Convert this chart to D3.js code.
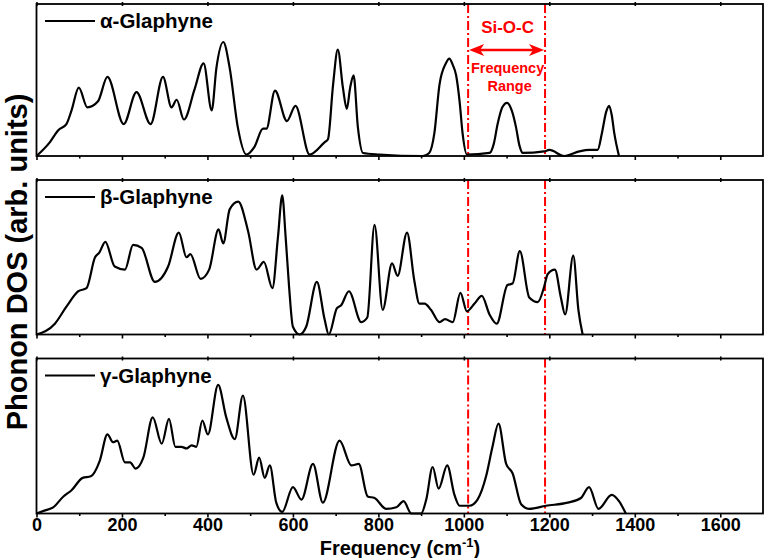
<!DOCTYPE html>
<html>
<head>
<meta charset="utf-8">
<script src="https://cdn.jsdelivr.net/npm/d3@7"></script>
<style>
  body { margin: 0; background: #fff; }
  svg { display: block; font-family: "Liberation Sans", Arial, sans-serif; font-weight: bold; }
</style>
</head>
<body>
<svg id="chart" width="765" height="558"></svg>
<script>
// phonon DOS (frequency in cm-1, DOS in arb. units, 0..1 of panel)
const alphaFreq = [0,31,51,70,82,99,119,144,166,204,234,267,296,316,328,345,370,391,410,421,437,452,471,491,510,530,538,558,586,606,639,674,682,694,705,717,726,734,742,752,764,802,904,919,931,943,958,966,974,982,990,997,1007,1060,1070,1079,1090,1101,1112,1122,1130,1138,1188,1200,1235,1270,1293,1313,1323,1333,1340,1346,1352,1363];
const alphaDos = [0,0.09,0.17,0.21,0.30,0.45,0.32,0.36,0.52,0.21,0.42,0.21,0.52,0.32,0.37,0.24,0.44,0.61,0.30,0.58,0.75,0.58,0.19,0.01,0.06,0.18,0.18,0.43,0.23,0.33,0.01,0.09,0.11,0.47,0.70,0.45,0.31,0.45,0.53,0.19,0.02,0.01,0,0.02,0.15,0.47,0.61,0.64,0.60,0.53,0.36,0.15,0.01,0.02,0.08,0.21,0.32,0.35,0.30,0.19,0.07,0.02,0.03,0.04,0,0.03,0.04,0.04,0.15,0.29,0.33,0.27,0.15,0];

const betaFreq = [0,43,70,98,117,137,147,161,183,207,226,246,277,308,333,351,360,384,404,426,437,452,472,495,515,532,552,565,575,583,591,600,616,631,656,674,684,703,713,731,760,774,791,810,832,845,867,884,896,908,923,943,956,974,992,1007,1025,1042,1060,1077,1102,1114,1131,1153,1173,1188,1196,1213,1227,1237,1256,1268,1278];
const betaDos = [0,0.07,0.18,0.28,0.30,0.50,0.53,0.60,0.44,0.42,0.58,0.56,0.34,0.44,0.66,0.50,0.52,0.36,0.42,0.68,0.59,0.81,0.86,0.67,0.42,0.47,0.30,0.63,0.90,0.63,0.31,0.05,0,0.05,0.34,0.10,0,0.17,0.19,0.28,0.08,0.11,0.71,0.16,0.46,0.38,0.66,0.35,0.20,0.20,0.16,0.08,0.10,0.08,0.27,0.15,0.20,0.25,0.13,0.07,0.32,0.33,0.54,0.24,0.21,0.31,0.39,0.42,0.24,0.13,0.51,0.16,0];

const gammaFreq = [0,20,39,63,82,108,127,148,166,179,189,207,219,232,250,272,293,310,325,339,351,363,374,388,401,425,444,464,483,508,521,534,546,561,575,600,620,647,670,709,737,754,775,791,818,842,859,877,900,912,927,941,961,978,990,1013,1032,1052,1067,1081,1099,1114,1134,1153,1192,1243,1274,1293,1315,1346,1363,1379];
const gammaDos = [0,0.02,0.04,0.11,0.15,0.23,0.24,0.34,0.51,0.46,0.47,0.33,0.33,0.29,0.36,0.62,0.45,0.61,0.43,0.43,0.42,0.44,0.43,0.60,0.51,0.83,0.62,0.48,0.76,0.25,0.36,0.23,0.31,0.07,0.01,0.17,0.09,0.32,0.07,0.47,0.31,0.32,0.11,0.10,0.03,0.04,0.08,0,0,0.09,0.30,0.16,0.31,0.12,0.05,0.05,0.09,0.24,0.43,0.58,0.32,0.26,0.06,0.03,0.05,0.07,0.10,0.17,0.03,0.12,0.08,0];

const panelNames = ["α-Glaphyne", "β-Glaphyne", "γ-Glaphyne"];
const xTicks = [0, 200, 400, 600, 800, 1000, 1200, 1400, 1600];
const xMinorTicks = [100, 300, 500, 700, 900, 1100, 1300, 1500];
const siocRange = [1010, 1190];

const series = [
  { name: panelNames[0], freq: alphaFreq, dos: alphaDos },
  { name: panelNames[1], freq: betaFreq, dos: betaDos },
  { name: panelNames[2], freq: gammaFreq, dos: gammaDos },
];

const svg = d3.select("#chart");
const red = "#ff0000";
const panelTop = [4, 180, 358.5];
const panelBottom = [156, 334.5, 513.5];

const x = d3.scaleLinear().domain([0, 1700]).range([36.5, 763]);

series.forEach((s, i) => {
  const top = panelTop[i], bottom = panelBottom[i];
  const y = d3.scaleLinear().domain([0, 1]).range([bottom, top]);
  const g = svg.append("g");

  // minor + major ticks, bottom and top
  const last = i === series.length - 1;
  const major = d3.axisBottom(x).tickValues(xTicks).tickSize(4).tickPadding(1)
    .tickFormat(last ? d3.format("d") : "");
  g.append("g").attr("transform", `translate(0,${bottom})`).call(major)
    .call((a) => a.select(".domain").remove())
    .call((a) => a.selectAll("line").attr("stroke-width", 1.6))
    .call((a) => a.selectAll("text").attr("font-size", 18).attr("font-weight", "bold")
      .attr("font-family", "Liberation Sans, Arial, sans-serif").attr("fill", "#000"));
  g.append("g").attr("transform", `translate(0,${bottom})`)
    .call(d3.axisBottom(x).tickValues(xMinorTicks).tickSize(2.5).tickFormat(""))
    .call((a) => a.select(".domain").remove())
    .call((a) => a.selectAll("line").attr("stroke-width", 1.6));
  g.append("g").attr("transform", `translate(0,${top + 2})`)
    .call(d3.axisTop(x).tickValues(xTicks).tickSize(4).tickFormat(""))
    .call((a) => a.select(".domain").remove())
    .call((a) => a.selectAll("line").attr("stroke-width", 1.6));

  // Si-O-C frequency range markers
  g.selectAll(".range").data(siocRange).join("line")
    .attr("x1", (d) => x(d)).attr("x2", (d) => x(d))
    .attr("y1", top).attr("y2", bottom)
    .attr("stroke", red).attr("stroke-width", 2)
    .attr("stroke-dasharray", "9,3,2,3");

  const line = d3.line()
    .x((d) => x(d[0]))
    .y((d) => y(d[1]))
    .curve(d3.curveMonotoneX);
  g.append("path")
    .datum(d3.zip(s.freq, s.dos))
    .attr("d", line)
    .attr("fill", "none")
    .attr("stroke", "#000")
    .attr("stroke-width", 2.2)
    .attr("stroke-linejoin", "round");

  // frame
  g.append("rect")
    .attr("x", x(0)).attr("y", top)
    .attr("width", x(1700) - x(0)).attr("height", bottom - top)
    .attr("fill", "none").attr("stroke", "#000").attr("stroke-width", 1.8);

  // legend
  g.append("line")
    .attr("x1", 45).attr("x2", 95)
    .attr("y1", top + 17).attr("y2", top + 17)
    .attr("stroke", "#000").attr("stroke-width", 2);
  g.append("text")
    .attr("x", 100).attr("y", top + 24)
    .attr("font-size", 20.5)
    .text(s.name);
});

// annotation in the first panel
const mid = x((siocRange[0] + siocRange[1]) / 2);
const ann = svg.append("g").attr("fill", red);
ann.append("text").attr("x", mid + 1).attr("y", 33).attr("text-anchor", "middle")
  .attr("font-size", 17).text("Si-O-C");
ann.append("text").attr("x", mid + 1).attr("y", 73).attr("text-anchor", "middle")
  .attr("font-size", 14.5).text("Frequency");
ann.append("text").attr("x", mid + 3).attr("y", 91).attr("text-anchor", "middle")
  .attr("font-size", 14.5).text("Range");

const ay = 50, ax0 = x(siocRange[0]) + 1, ax1 = x(siocRange[1]) - 1;
ann.append("line")
  .attr("x1", ax0 + 8).attr("x2", ax1 - 8).attr("y1", ay).attr("y2", ay)
  .attr("stroke", red).attr("stroke-width", 2.5);
ann.append("path")
  .attr("d", `M${ax0},${ay} L${ax0 + 15},${ay - 6} L${ax0 + 11},${ay} L${ax0 + 15},${ay + 6} Z`);
ann.append("path")
  .attr("d", `M${ax1},${ay} L${ax1 - 15},${ay - 6} L${ax1 - 11},${ay} L${ax1 - 15},${ay + 6} Z`);

// axis titles
svg.append("text")
  .attr("transform", `translate(26.5,262) rotate(-90)`)
  .attr("text-anchor", "middle")
  .attr("font-size", 29)
  .text("Phonon DOS (arb. units)");

const xt = svg.append("text")
  .attr("x", 400).attr("y", 555)
  .attr("text-anchor", "middle")
  .attr("font-size", 20);
xt.append("tspan").text("Frequency (cm");
xt.append("tspan").attr("font-size", 13).attr("dy", -8).text("-1");
xt.append("tspan").attr("dy", 8).text(")");
</script>
</body>
</html>
